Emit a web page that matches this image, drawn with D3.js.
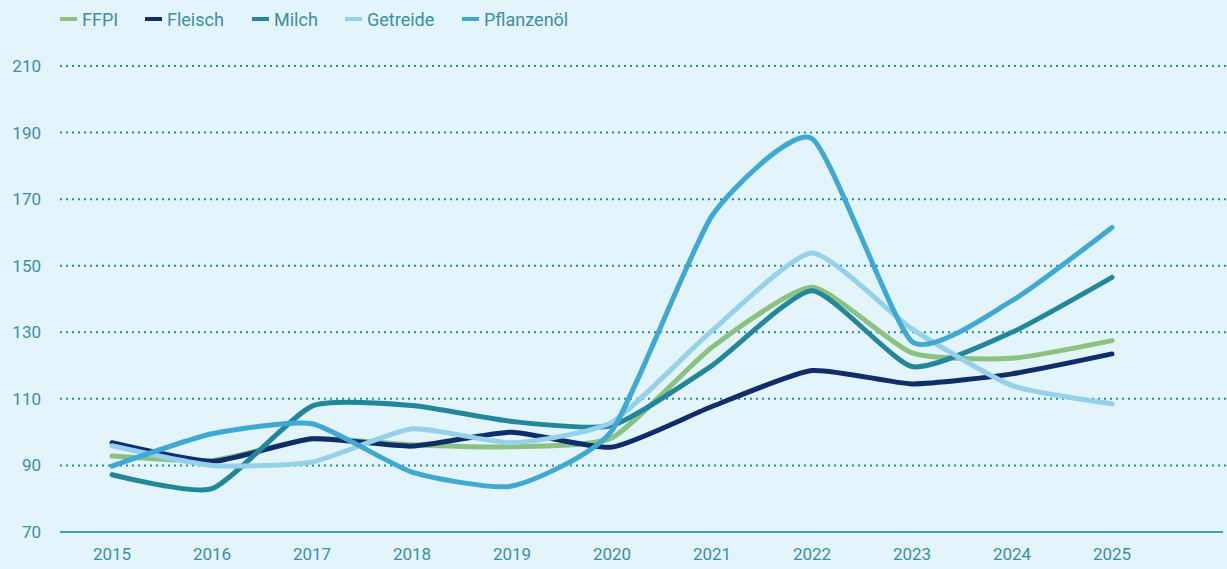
<!DOCTYPE html>
<html>
<head>
<meta charset="utf-8">
<script src="https://cdn.jsdelivr.net/npm/d3@7"></script>
<style>
body { margin:0; background:#e3f4fb; }
svg { display:block; font-family: Roboto, "DejaVu Sans Condensed", sans-serif; }
</style>
</head>
<body>
<svg class="graph" width="1227" height="569"></svg>
<script>
// Jahre
var years = [2015, 2016, 2017, 2018, 2019, 2020, 2021, 2022, 2023, 2024, 2025];
var yTicks = [70, 90, 110, 130, 150, 170, 190, 210];

// FAO Preisindizes (2014-2016 = 100)
var ffpi       = [92.8, 91.5, 98.0, 96.2, 95.6, 98.3, 125.5, 143.5, 123.8, 122.2, 127.5];
var fleisch    = [96.8, 91.2, 98.0, 95.8, 100.0, 95.5, 107.7, 118.5, 114.5, 117.5, 123.5];
var milch      = [87.2, 83.0, 107.8, 108.0, 103.2, 102.0, 120.0, 142.5, 119.7, 130.0, 146.5];
var getreide   = [95.9, 90.0, 91.0, 101.0, 96.8, 103.0, 130.5, 153.8, 131.0, 114.0, 108.5];
var pflanzenoel = [89.8, 99.5, 102.5, 88.0, 83.8, 100.5, 165.0, 188.2, 127.2, 139.5, 161.5];

var names  = ["FFPI", "Fleisch", "Milch", "Getreide", "Pflanzenöl"];
var colors = ["#8cc27f", "#0f2d6b", "#22879a", "#95d1ea", "#3fa9d3"];
var series = [ffpi, fleisch, milch, getreide, pflanzenoel];

var svg = d3.select("svg");
var textCol = "#3b8fa5";

var x = d3.scaleLinear().domain([2014.48, 2026.11]).range([60, 1223]);
var y = d3.scaleLinear().domain([70, 210]).range([532, 66]);

// Gitterlinien
svg.append("g").selectAll("line")
  .data(yTicks.filter(function(d){ return d > 70; }))
  .join("line")
  .attr("x1", 60).attr("x2", 1227)
  .attr("y1", function(d){ return y(d); }).attr("y2", function(d){ return y(d); })
  .attr("stroke", "#2a8a9b").attr("stroke-width", 2)
  .attr("stroke-dasharray", "2,4");

// x-Achse
svg.append("line")
  .attr("x1", 60).attr("x2", 1223)
  .attr("y1", y(70)).attr("y2", y(70))
  .attr("stroke", "#4a9db3").attr("stroke-width", 2);

// y-Beschriftung
svg.append("g").selectAll("text")
  .data(yTicks).join("text")
  .attr("x", 41).attr("y", function(d){ return y(d) + 6; })
  .attr("text-anchor", "end")
  .attr("fill", textCol).style("font-size", "17px")
  .text(function(d){ return d; });

// x-Beschriftung
svg.append("g").selectAll("text")
  .data(years).join("text")
  .attr("x", function(d){ return x(d); }).attr("y", 560)
  .attr("text-anchor", "middle")
  .attr("fill", textCol).style("font-size", "17px")
  .text(function(d){ return d; });

// Linien
var line = d3.line()
  .x(function(d, i){ return x(years[i]); })
  .y(function(d){ return y(d); })
  .curve(d3.curveCardinal.tension(0.45));

svg.append("g").selectAll("path")
  .data(series).join("path")
  .attr("d", line)
  .attr("fill", "none")
  .attr("stroke", function(d, i){ return colors[i]; })
  .attr("stroke-width", 5)
  .attr("stroke-linecap", "round")
  .attr("stroke-linejoin", "round");

// Legende
var legX = [60, 145, 252, 345, 462];
var leg = svg.append("g").selectAll("g")
  .data(names).join("g")
  .attr("transform", function(d, i){ return "translate(" + legX[i] + ",19)"; });
leg.append("line")
  .attr("x1", 0).attr("x2", 17)
  .attr("stroke", function(d, i){ return colors[i]; })
  .attr("stroke-width", 4);
leg.append("text")
  .attr("x", 22).attr("y", 6.5)
  .attr("fill", textCol).style("font-size", "18px")
  .text(function(d){ return d; });
</script>
</body>
</html>
